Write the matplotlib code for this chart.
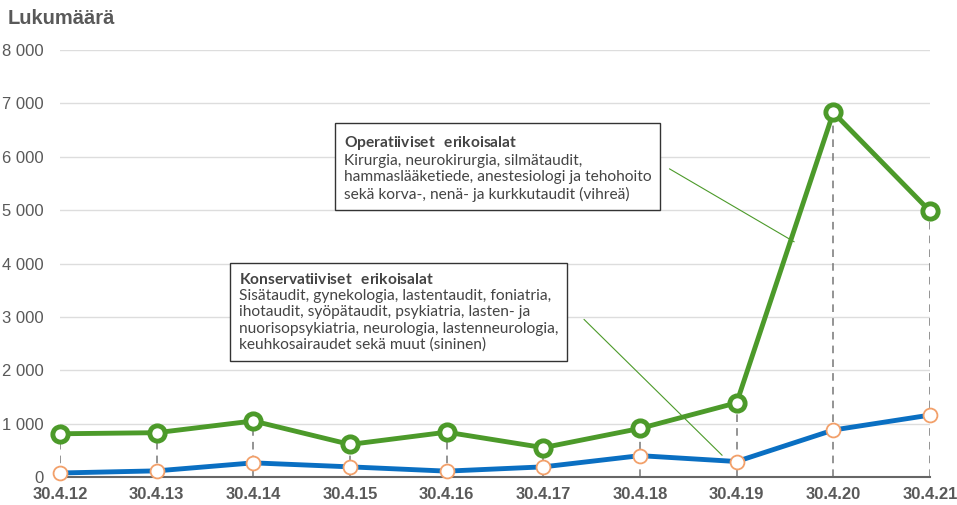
import matplotlib.pyplot as plt

vuodet = ['30.4.12', '30.4.13', '30.4.14', '30.4.15', '30.4.16',
          '30.4.17', '30.4.18', '30.4.19', '30.4.20', '30.4.21']
operatiiviset = [810, 830, 1050, 610, 840, 550, 910, 1390, 6830, 4980]
konservatiiviset = [75, 115, 265, 190, 110, 190, 400, 290, 880, 1160]
y_ticks = [0, 1000, 2000, 3000, 4000, 5000, 6000, 7000, 8000]
y_labels = ['0', '1 000', '2 000', '3 000', '4 000', '5 000', '6 000', '7 000', '8 000']

vihrea = '#4c9a2a'
sininen = '#0a6fc2'
oranssi = '#f2a06a'
harmaa = '#595959'

plt.rcParams['mathtext.fontset'] = 'custom'
plt.rcParams['mathtext.bf'] = 'Lato:bold'
plt.rcParams['mathtext.rm'] = 'Lato'

fig = plt.figure(figsize=(9.57, 5.05), dpi=100)
ax = fig.add_axes([60 / 957, 1 - 477 / 505, 870 / 957, 427 / 505])
x = list(range(len(vuodet)))

for i in x:
    ax.plot([i, i], [0, operatiiviset[i]], color='#777777', lw=1.1,
            ls=(0, (5, 4)), zorder=1)

ax.plot(x, konservatiiviset, color=sininen, lw=3.5, zorder=3,
        marker='o', ms=10, mfc='white', mec=oranssi, mew=1.3, clip_on=False)
ax.plot(x, operatiiviset, color=vihrea, lw=3.5, zorder=4,
        marker='o', ms=11, mfc='white', mec=vihrea, mew=3.5, clip_on=False)

ax.set_xlim(0, 9)
ax.set_ylim(0, 8000)
ax.set_yticks(y_ticks)
ax.set_yticklabels(y_labels, fontsize=12, color=harmaa, family='Liberation Sans')
ax.set_xticks(x)
ax.set_xticklabels(vuodet, fontsize=12, color=harmaa, fontweight='bold',
                   family='Liberation Sans')
ax.tick_params(axis='both', length=0, pad=12)
ax.tick_params(axis='x', pad=7)
ax.grid(axis='y', color='#dddddd', lw=1)
ax.set_axisbelow(True)
for s in ['top', 'right', 'left']:
    ax.spines[s].set_visible(False)
ax.spines['bottom'].set_color('#666666')
ax.spines['bottom'].set_linewidth(1.5)

fig.text(8 / 957, 1 - 18 / 505, 'Lukumäärä', fontsize=14.5, fontweight='bold',
         color=harmaa, va='center', family='Liberation Sans')

# selitelaatikot ja viivat
ax.annotate('', xy=(7.62, 4380), xytext=(6.28, 5800),
            arrowprops=dict(arrowstyle='-', color=vihrea, lw=0.8), zorder=2)
ax.annotate('', xy=(6.87, 370), xytext=(5.4, 2990),
            arrowprops=dict(arrowstyle='-', color=vihrea, lw=0.8), zorder=2)

laatikko = dict(boxstyle='square,pad=0.55', fc='white', ec='#333333', lw=1)
fig.text(344 / 957, 1 - 134 / 505,
         '$\\bf{Operatiiviset\\ \\ erikoisalat}$\n'
         'Kirurgia, neurokirurgia, silmätaudit,\n'
         'hammaslääketiede, anestesiologi ja tehohoito\n'
         'sekä korva-, nenä- ja kurkkutaudit (vihreä)',
         fontsize=11.2, color='#444444', va='top', ha='left', family='Lato',
         linespacing=1.2, bbox=laatikko)
fig.text(239 / 957, 1 - 272 / 505,
         '$\\bf{Konservatiiviset\\ \\ erikoisalat}$\n'
         'Sisätaudit, gynekologia, lastentaudit, foniatria,\n'
         'ihotaudit, syöpätaudit, psykiatria, lasten- ja\n'
         'nuorisopsykiatria, neurologia, lastenneurologia,\n'
         'keuhkosairaudet sekä muut (sininen)',
         fontsize=11.2, color='#444444', va='top', ha='left', family='Lato',
         linespacing=1.2, bbox=laatikko)

fig.savefig('out.png', dpi=100)
